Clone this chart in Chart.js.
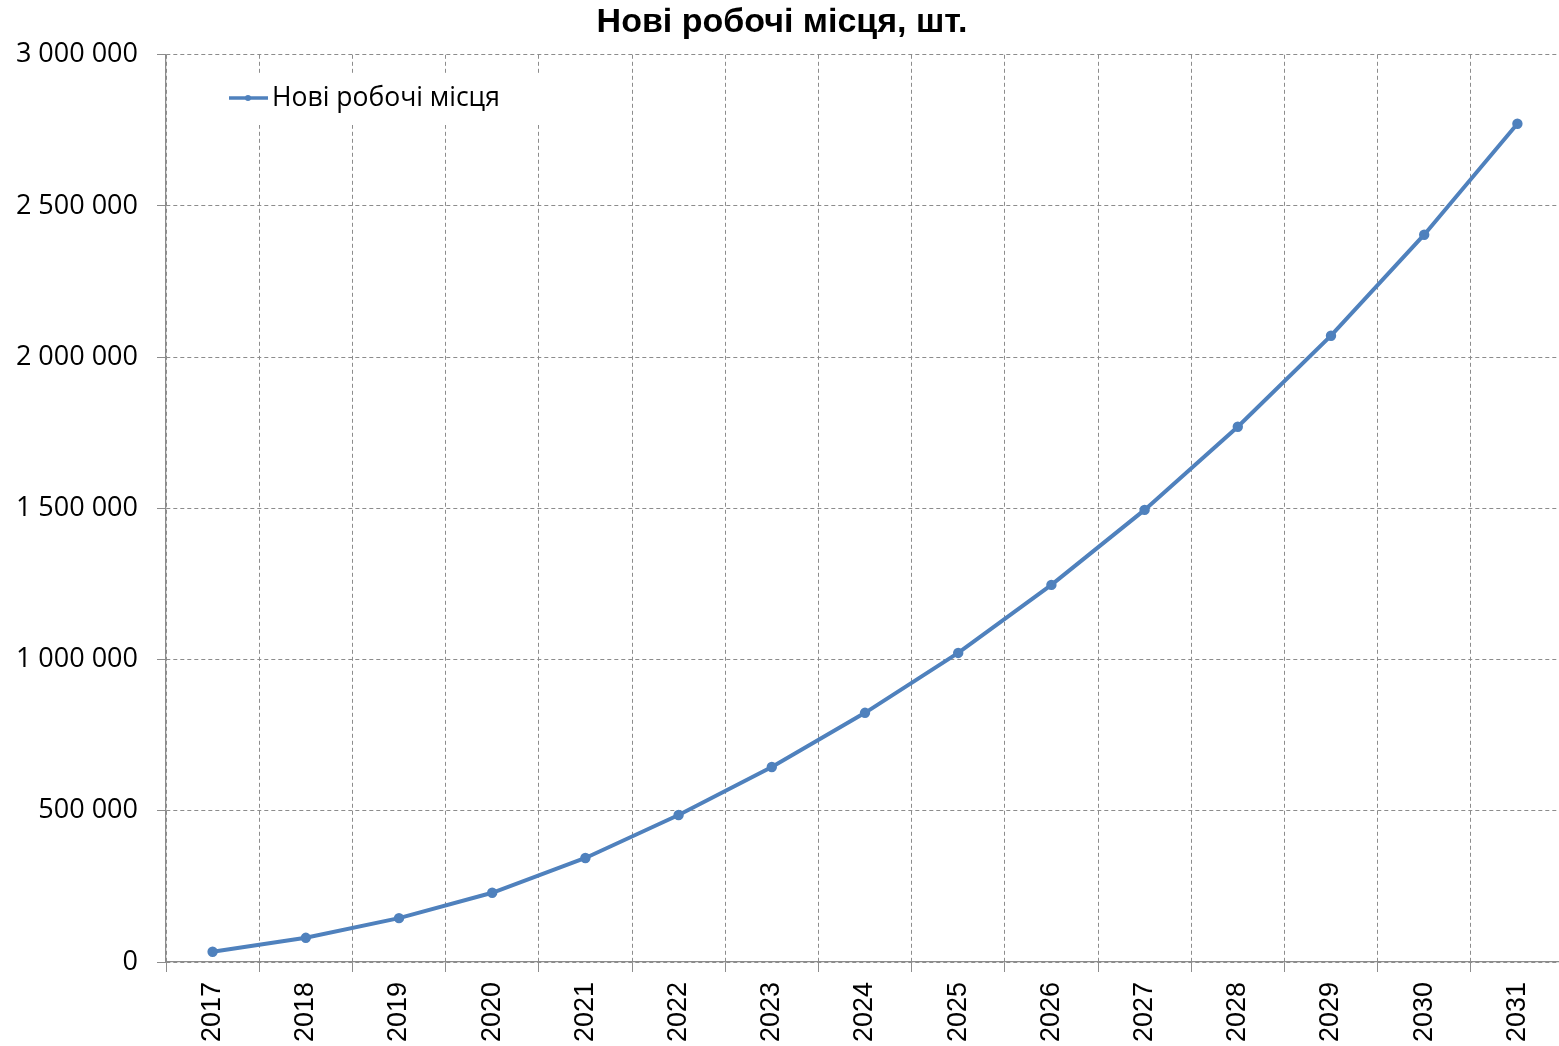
<!DOCTYPE html>
<html>
<head>
<meta charset="utf-8">
<script src="https://cdn.jsdelivr.net/npm/chart.js@4"></script>
<style>
  html, body { margin: 0; padding: 0; background: #fff; overflow: hidden; }
  /* plot runs a few px past the right edge of the window, as in the original */
  #wrap { width: 1564px; height: 1046px; }
</style>
</head>
<body>
<div id="wrap"><canvas id="jobsChart"></canvas></div>
<script>
const years = ['2017', '2018', '2019', '2020', '2021', '2022', '2023', '2024',
               '2025', '2026', '2027', '2028', '2029', '2030', '2031'];
const newJobs = [34000, 80000, 145000, 229000, 344000, 486000, 645000, 824000,
                 1022000, 1247000, 1495000, 1770000, 2071000, 2405000, 2772000];
const seriesName = 'Нові робочі місця';
const chartTitle = 'Нові робочі місця, шт.';

const lineBlue = '#4f81bd';
const gridGray = '#8c8c8c';

// format 1500000 -> "1 500 000"
function spaced(v) {
    return String(v).replace(/\B(?=(\d{3})+(?!\d))/g, ' ');
}

// legend sits inside the plot, white box over the grid
const insideLegend = {
    id: 'insideLegend',
    beforeDatasetsDraw(chart) {
        const c = chart.ctx;
        c.save();
        c.fillStyle = '#fff';
        c.fillRect(200, 73, 345, 52);
        c.strokeStyle = lineBlue;
        c.lineWidth = 3.5;
        c.beginPath();
        c.moveTo(229, 98);
        c.lineTo(268, 98);
        c.stroke();
        c.fillStyle = lineBlue;
        c.beginPath();
        c.arc(248, 98, 3, 0, Math.PI * 2);
        c.fill();
        c.fillStyle = '#000';
        c.font = '26.5px "Open Sans"';
        c.textBaseline = 'middle';
        c.fillText(seriesName, 272, 98);
        c.restore();
    }
};

const ctx = document.getElementById('jobsChart');

new Chart(ctx, {
    type: 'line',
    data: {
        labels: years,
        datasets: [{
            label: seriesName,
            data: newJobs,
            borderColor: lineBlue,
            backgroundColor: lineBlue,
            borderWidth: 4,
            pointRadius: 3.2,
            pointHoverRadius: 4,
            tension: 0
        }]
    },
    options: {
        responsive: true,
        maintainAspectRatio: false,
        animation: false,
        layout: {
            autoPadding: false,
            padding: { top: 0, right: 0, bottom: 0, left: 0 }
        },
        plugins: {
            legend: { display: false },
            tooltip: { enabled: false },
            title: {
                display: true,
                text: chartTitle,
                color: '#000',
                font: { family: '"Liberation Sans", Arial', size: 34, weight: 'bold', lineHeight: 1.2 },
                padding: { top: 2, bottom: 12 }
            }
        },
        scales: {
            x: {
                offset: true,
                grid: {
                    offset: true,
                    color: gridGray,
                    lineWidth: 1,
                    tickLength: 10,
                    tickColor: gridGray
                },
                border: { display: true, color: gridGray, width: 1.3, dash: [4, 3] },
                ticks: {
                    color: '#000',
                    font: { family: '"Liberation Sans", Arial', size: 27 },
                    minRotation: 90,
                    maxRotation: 90,
                    padding: 10
                },
                afterFit(scale) {
                    scale.height = 84;
                    scale.paddingLeft = 0;
                    scale.paddingRight = 0;
                }
            },
            y: {
                min: 0,
                max: 3000000,
                ticks: {
                    stepSize: 500000,
                    color: '#000',
                    font: { family: '"Open Sans"', size: 27 },
                    padding: 19,
                    callback: (v) => spaced(v)
                },
                grid: {
                    color: gridGray,
                    lineWidth: 1,
                    tickLength: 9,
                    tickColor: gridGray
                },
                border: { display: true, color: gridGray, width: 1.3, dash: [4, 3] },
                afterFit(scale) { scale.width = 166; }
            }
        }
    },
    plugins: [insideLegend]
});
</script>
</body>
</html>
